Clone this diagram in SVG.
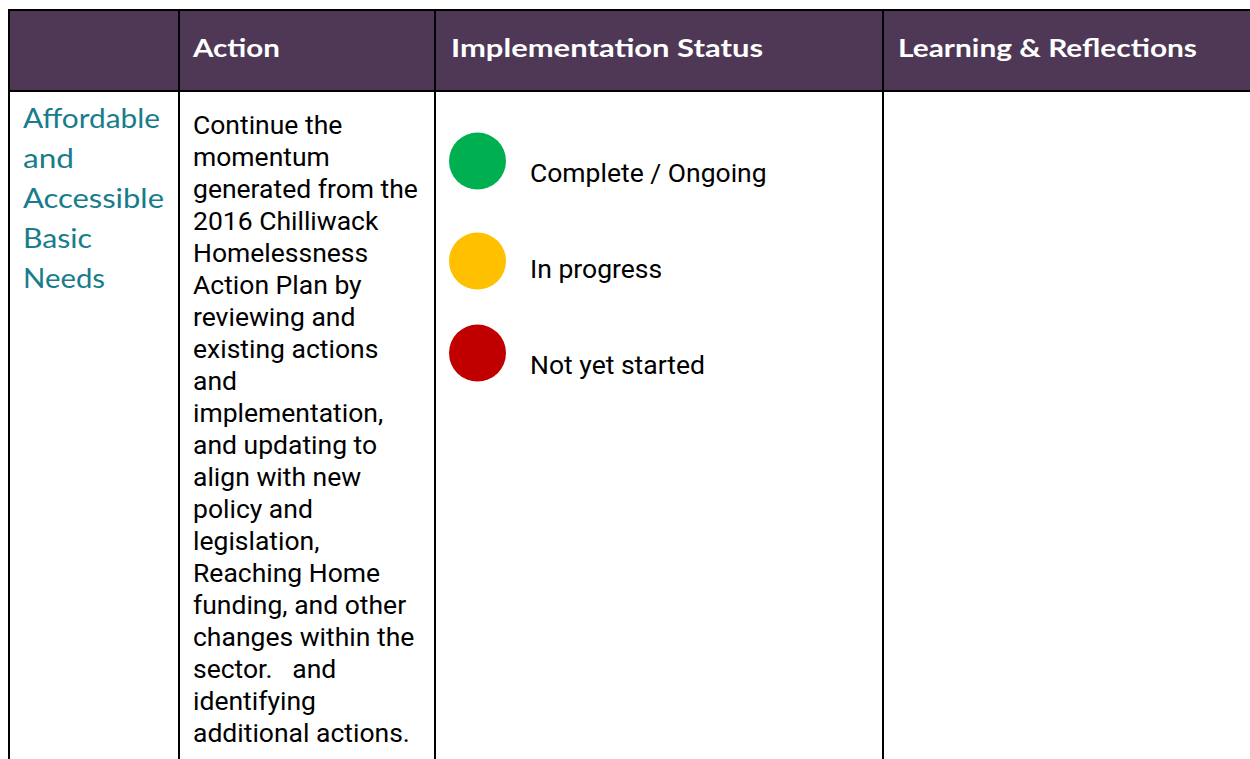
<svg xmlns="http://www.w3.org/2000/svg" width="1250" height="759" viewBox="0 0 1250 759">
<style>
.hdr{font-family:Lato,"Open Sans",sans-serif;font-weight:700;font-size:25px;fill:#ffffff}
.topic{font-family:Lato,"Open Sans",sans-serif;font-size:26px;fill:#187c8c}
.body{font-family:Roboto,"Liberation Sans",sans-serif;font-size:26.5px;fill:#000000}
.ln{stroke:#000000;stroke-width:2;fill:none}
</style>
<rect width="1250" height="759" fill="#ffffff"/>
<g id="header">
<rect x="9" y="10" width="1241" height="81" fill="#4e3856"/>
<text class="hdr" x="193" y="57" textLength="87" lengthAdjust="spacingAndGlyphs">Action</text>
<text class="hdr" x="451" y="57" textLength="312" lengthAdjust="spacingAndGlyphs">Implementation Status</text>
<text class="hdr" x="898" y="57" textLength="299" lengthAdjust="spacingAndGlyphs">Learning &amp; Reflections</text>
</g>
<g id="grid">
<line class="ln" x1="8" y1="10" x2="1250" y2="10"/>
<line class="ln" x1="8" y1="91" x2="1250" y2="91"/>
<line class="ln" x1="9" y1="9" x2="9" y2="759"/>
<line class="ln" x1="179" y1="9" x2="179" y2="759"/>
<line class="ln" x1="435" y1="9" x2="435" y2="759"/>
<line class="ln" x1="883" y1="9" x2="883" y2="759"/>
</g>
<g id="topic">
<text class="topic" x="23" y="128" textLength="137" lengthAdjust="spacingAndGlyphs">Affordable</text>
<text class="topic" x="23" y="168" textLength="51" lengthAdjust="spacingAndGlyphs">and</text>
<text class="topic" x="23" y="208" textLength="141" lengthAdjust="spacingAndGlyphs">Accessible</text>
<text class="topic" x="23" y="248" textLength="69" lengthAdjust="spacingAndGlyphs">Basic</text>
<text class="topic" x="23" y="288" textLength="82" lengthAdjust="spacingAndGlyphs">Needs</text>
</g>
<g id="action">
<text class="body" x="193" y="134">Continue the</text>
<text class="body" x="193" y="166">momentum</text>
<text class="body" x="193" y="198">generated from the</text>
<text class="body" x="193" y="230">2016 Chilliwack</text>
<text class="body" x="193" y="262">Homelessness</text>
<text class="body" x="193" y="294">Action Plan by</text>
<text class="body" x="193" y="326">reviewing and</text>
<text class="body" x="193" y="358">existing actions</text>
<text class="body" x="193" y="390">and</text>
<text class="body" x="193" y="422">implementation,</text>
<text class="body" x="193" y="454">and updating to</text>
<text class="body" x="193" y="486">align with new</text>
<text class="body" x="193" y="518">policy and</text>
<text class="body" x="193" y="550">legislation,</text>
<text class="body" x="193" y="582">Reaching Home</text>
<text class="body" x="193" y="614">funding, and other</text>
<text class="body" x="193" y="646">changes within the</text>
<text class="body" x="193" y="678" xml:space="preserve">sector.   and</text>
<text class="body" x="193" y="710">identifying</text>
<text class="body" x="193" y="742">additional actions.</text>
</g>
<g id="status-complete">
<circle cx="477.5" cy="161" r="28.5" fill="#00b050"/>
<text class="body" x="530" y="182">Complete / Ongoing</text>
</g>
<g id="status-progress">
<circle cx="477.5" cy="261" r="28.5" fill="#ffc000"/>
<text class="body" x="530" y="278">In progress</text>
</g>
<g id="status-notstarted">
<circle cx="477.5" cy="353" r="28.5" fill="#c00000"/>
<text class="body" x="530" y="374">Not yet started</text>
</g>
</svg>
